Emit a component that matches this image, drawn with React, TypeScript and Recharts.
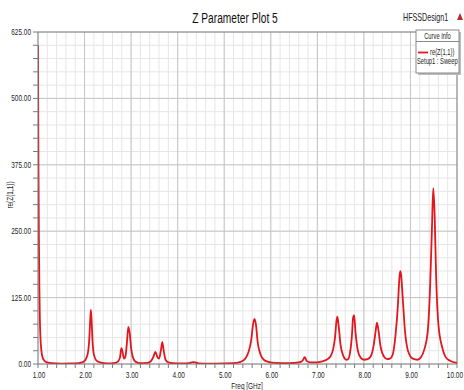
import { LineChart, Line, XAxis, YAxis, CartesianGrid, ReferenceLine } from 'recharts';

// 주파수 (GHz) / re(Z(1,1)) 값 — 그림에서 읽은 값
const freqGHz = [
  1.0, 1.005, 1.01, 1.02, 1.03, 1.04, 1.05, 1.06, 1.08, 1.1, 1.14, 1.2, 1.3, 1.5, 1.8,
  1.95, 2.02, 2.07, 2.1, 2.12, 2.135, 2.15, 2.17, 2.2, 2.25, 2.35, 2.5,
  2.65, 2.72, 2.76, 2.79, 2.81, 2.85, 2.88, 2.91, 2.94, 2.97, 3.0, 3.04, 3.1, 3.2,
  3.35, 3.43, 3.48, 3.52, 3.56, 3.6, 3.64, 3.67, 3.7, 3.74, 3.8, 3.9,
  4.1, 4.25, 4.32, 4.38, 4.45, 4.8,
  5.2, 5.35, 5.45, 5.52, 5.58, 5.62, 5.65, 5.68, 5.72, 5.78, 5.85, 5.95, 6.1,
  6.4, 6.6, 6.68, 6.73, 6.77, 6.85, 7.0,
  7.1, 7.2, 7.28, 7.34, 7.38, 7.41, 7.43, 7.46, 7.5, 7.56, 7.62,
  7.66, 7.7, 7.74, 7.77, 7.79, 7.82, 7.87, 7.93, 8.0,
  8.08, 8.15, 8.21, 8.25, 8.28, 8.31, 8.36, 8.43, 8.5,
  8.56, 8.62, 8.68, 8.73, 8.76, 8.78, 8.8, 8.83, 8.88, 8.95, 9.05, 9.15,
  9.22, 9.3, 9.37, 9.42, 9.46, 9.49, 9.52, 9.55, 9.6, 9.68, 9.75, 9.85, 10.0,
];
const reZ11 = [
  600, 480, 370, 230, 140, 85, 55, 38, 20, 12, 6, 3, 1.5, 0.8, 1,
  3, 8, 20, 45, 80, 102, 85, 45, 18, 7, 2.5, 1,
  2, 5, 12, 30, 25, 10, 15, 40, 70, 58, 30, 12, 4, 1.5,
  2, 6, 14, 23, 14, 10, 26, 41, 25, 8, 3, 1.5,
  1, 1.5, 3.5, 3, 1, 0.8,
  1.5, 4, 10, 22, 45, 75, 85, 75, 40, 18, 8, 4, 2,
  1.5, 3, 6, 13, 6, 3, 3,
  5, 8, 14, 28, 50, 80, 89, 70, 35, 15, 8,
  9, 20, 50, 88, 92, 60, 25, 12, 8,
  9, 15, 35, 60, 78, 65, 32, 14, 9,
  10, 18, 55, 110, 158, 175, 168, 130, 65, 24, 10, 8,
  12, 28, 60, 140, 250, 331, 280, 170, 75, 32, 14, 6, 2,
];

const xMajorTicks = [1, 2, 3, 4, 5, 6, 7, 8, 9, 10];
const yMajorTicks = [0, 125, 250, 375, 500, 625];

const title = 'Z Parameter Plot 5';
const designName = 'HFSSDesign1';
const legendTitle = 'Curve Info';
const seriesName = 're(Z(1,1))';
const setupName = 'Setup1 : Sweep';
const xLabel = 'Freq [GHz]';
const yLabel = 're(Z(1,1))';

const data = freqGHz.map((f, i) => ({ freq: f, value: reZ11[i] }));

// 주 눈금 사이를 5등분한 보조 눈금
const subdivide = (major: number[]) => {
  const out: number[] = [];
  for (let i = 0; i < major.length - 1; i++) {
    const step = (major[i + 1] - major[i]) / 5;
    for (let k = 0; k < 5; k++) out.push(Math.round((major[i] + k * step) * 1e4) / 1e4);
  }
  out.push(major[major.length - 1]);
  return out;
};
const xTicks = subdivide(xMajorTicks);
const yTicks = subdivide(yMajorTicks);

const isMajor = (v: number, list: number[]) => list.some(m => Math.abs(m - v) < 1e-6);

const FONT = '"Liberation Sans", Arial, sans-serif';
const NARROW = 0.68; // HFSS 캡처의 좁은 글꼴 비율
const GRID_MINOR = '#e6e6e6';
const GRID_MAJOR = '#c6c6c6';
const FRAME = '#7a7a7a';
const RED = '#e3161d';

// 가로로 좁힌 텍스트
function NarrowText({ x, y, size, anchor = 'start', rotate = 0, fill = '#222', children }: any) {
  const rot = rotate ? ` rotate(${rotate})` : '';
  return (
    <text transform={`translate(${x} ${y})${rot} scale(${NARROW} 1)`} textAnchor={anchor}
      fontSize={size} fontFamily={FONT} fill={fill}>
      {children}
    </text>
  );
}

function YTick({ x, y, payload }: any) {
  const v = payload.value;
  if (!isMajor(v, yMajorTicks)) return <g />;
  return <NarrowText x={x} y={y + 3} size={9.5} anchor="end">{v.toFixed(2)}</NarrowText>;
}

function XTick({ x, y, payload }: any) {
  const v = payload.value;
  if (!isMajor(v, xMajorTicks)) return <g />;
  const last = v === xMajorTicks[xMajorTicks.length - 1];
  return (
    <NarrowText x={last ? 463 : x + 1} y={y + 8} size={9.5} anchor={last ? 'end' : 'middle'}>
      {v.toFixed(2)}
    </NarrowText>
  );
}

export default function App() {
  return (
    <div style={{ position: 'absolute', left: 0, top: 0, width: 464, height: 390, background: '#fff' }}>
      <LineChart width={464} height={390} data={data}
        margin={{ top: 32, right: 7, bottom: 0, left: 0 }}>
        <CartesianGrid stroke={GRID_MINOR} strokeWidth={1} />
        {xMajorTicks.slice(1, -1).map(v => (
          <ReferenceLine key={'x' + v} x={v} stroke={GRID_MAJOR} strokeWidth={1} />
        ))}
        {yMajorTicks.slice(1, -1).map(v => (
          <ReferenceLine key={'y' + v} y={v} stroke={GRID_MAJOR} strokeWidth={1} />
        ))}
        <ReferenceLine y={625} stroke={FRAME} strokeWidth={1} />
        <ReferenceLine x={10} stroke={FRAME} strokeWidth={1} />
        <XAxis dataKey="freq" type="number" domain={[1, 10]} ticks={xTicks}
          allowDataOverflow height={26} interval={0}
          axisLine={{ stroke: FRAME }} tickLine={{ stroke: FRAME }} tickSize={4}
          tick={<XTick />} />
        <YAxis type="number" domain={[0, 625]} ticks={yTicks} width={38} interval={0}
          allowDataOverflow
          axisLine={{ stroke: FRAME }} tickLine={{ stroke: FRAME }} tickSize={5}
          tick={<YTick />} />
        <Line type="monotone" dataKey="value" stroke={RED} strokeWidth={1.8}
          dot={false} activeDot={false} isAnimationActive={false} />
      </LineChart>

      {/* 제목, 디자인 이름, 범례 상자 */}
      <svg width={464} height={390}
        style={{ position: 'absolute', left: 0, top: 0, pointerEvents: 'none' }}>
        <NarrowText x={235} y={23} size={15} anchor="middle" fill="#111">{title}</NarrowText>
        <NarrowText x={403} y={21} size={10.5}>{designName}</NarrowText>
        <polygon points="457,20 460,13 463,20" fill="#c0282d" />

        <rect x={418} y={32} width={43} height={43} fill="#bdbdbd" />
        <rect x={416} y={30} width={43} height={43} fill="#fff" stroke="#8a8a8a" strokeWidth={1} />
        <NarrowText x={437.5} y={39} size={8.5} anchor="middle">{legendTitle}</NarrowText>
        <line x1={416} y1={41.5} x2={459} y2={41.5} stroke="#8a8a8a" strokeWidth={1} />
        <line x1={418} y1={52.5} x2={428} y2={52.5} stroke={RED} strokeWidth={1.8} />
        <NarrowText x={430} y={55} size={8.5}>{seriesName}</NarrowText>
        <NarrowText x={417} y={64} size={8.5}>{setupName}</NarrowText>

        <NarrowText x={247} y={389} size={9.5} anchor="middle">{xLabel}</NarrowText>
        <text transform="translate(13 195) rotate(-90) scale(0.68 1)" textAnchor="middle"
          fontSize={9.5} fontFamily={FONT} fill="#222">{yLabel}</text>
      </svg>
    </div>
  );
}
